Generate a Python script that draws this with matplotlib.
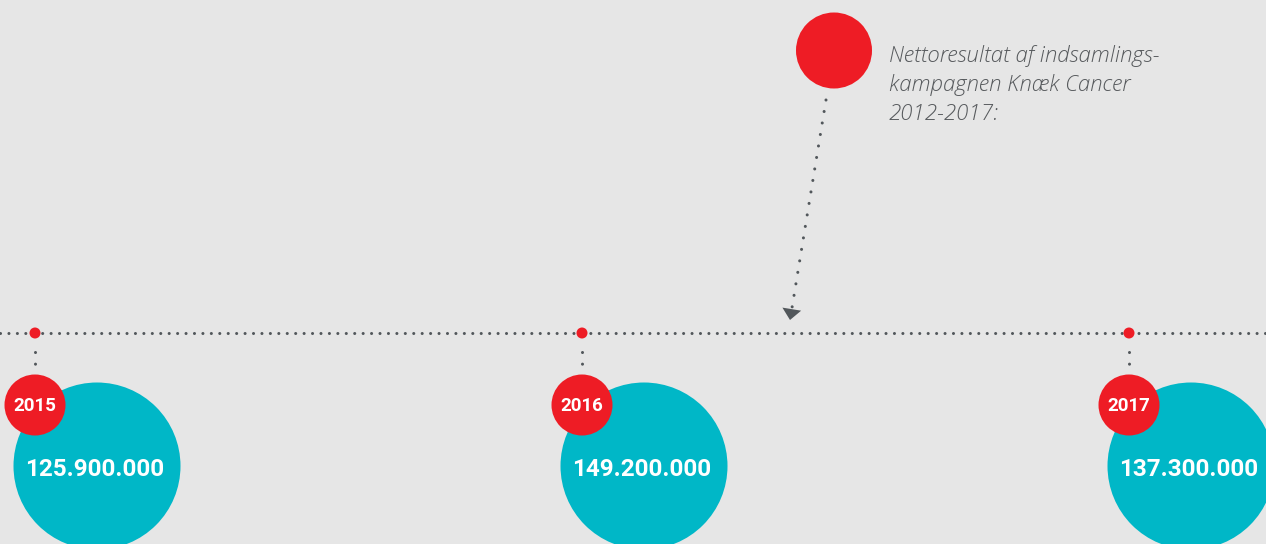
import matplotlib
matplotlib.use("Agg")
import matplotlib.pyplot as plt
from matplotlib.patches import Circle, Polygon
import numpy as np

# ---- data ----
years = ["2015", "2016", "2017"]
values = [125_900_000, 149_200_000, 137_300_000]
caption_lines = ["Nettoresultat af indsamlings-", "kampagnen Knæk Cancer", "2012-2017:"]

# ---- style ----
BG = "#e6e6e6"
RED = "#ee1c25"
TEAL = "#00b7c7"
DOT = "#52575b"
TXT = "#56595c"

W, H = 1266, 544
fig = plt.figure(figsize=(W / 100, H / 100), dpi=100, facecolor=BG)
ax = fig.add_axes([0, 0, 1, 1])
ax.set_xlim(0, W)
ax.set_ylim(H, 0)
ax.set_aspect("equal")
ax.axis("off")
ax.set_facecolor(BG)

lw = 2.2

# timeline
line_y = 333
ax.plot([0, W], [line_y, line_y], color=DOT, lw=lw, linestyle=(0, (0.01, 2.75)),
        dash_capstyle="round", zorder=1)

x0, step = 35, 547
for i, (yr, val) in enumerate(zip(years, values)):
    x = x0 + step * i
    # small red marker on timeline
    ax.add_patch(Circle((x, line_y), 5.5, color=RED, zorder=3, lw=0))
    # vertical dotted connector
    ax.plot([x, x], [352, 370], color=DOT, lw=lw, linestyle=(0, (0.01, 3.8)),
            dash_capstyle="round", zorder=1)
    # teal value circle
    cx, cy, r = x + 62, 466, 83.5
    ax.add_patch(Circle((cx, cy), r, color=TEAL, zorder=2, lw=0))
    label = f"{val:,}".replace(",", ".")
    ax.text(cx - 2, cy + 3, label, color="white", fontsize=17.5, fontweight="bold",
            family="Roboto", ha="center", va="center", zorder=5)
    # red year circle
    ax.add_patch(Circle((x, 405), 30.5, color=RED, zorder=4, lw=0))
    ax.text(x, 406, yr, color="white", fontsize=13.5, fontweight="bold",
            family="Roboto", ha="center", va="center", zorder=5)

# big red legend dot
ax.add_patch(Circle((834, 50.5), 38, color=RED, zorder=3, lw=0))

# dotted arrow
start = np.array([826.0, 100.0])
tip = np.array([790.0, 320.0])
d = (tip - start) / np.linalg.norm(tip - start)
base = tip - d * 11
ax.plot([start[0], base[0]], [start[1], base[1]], color=DOT, lw=lw,
        linestyle=(0, (0.01, 3.8)), dash_capstyle="round", zorder=1)
perp = np.array([-d[1], d[0]])
tri = [tip, base + perp * 9.5, base - perp * 9.5]
ax.add_patch(Polygon(tri, closed=True, color=DOT, zorder=3, lw=0))

# caption
for k, line in enumerate(caption_lines):
    ax.text(889, 62 + 29 * k, line, color=TXT, fontsize=16, style="italic",
            fontweight="light", family="Open Sans", ha="left", va="baseline")

fig.savefig("out.png", dpi=100, facecolor=BG)
